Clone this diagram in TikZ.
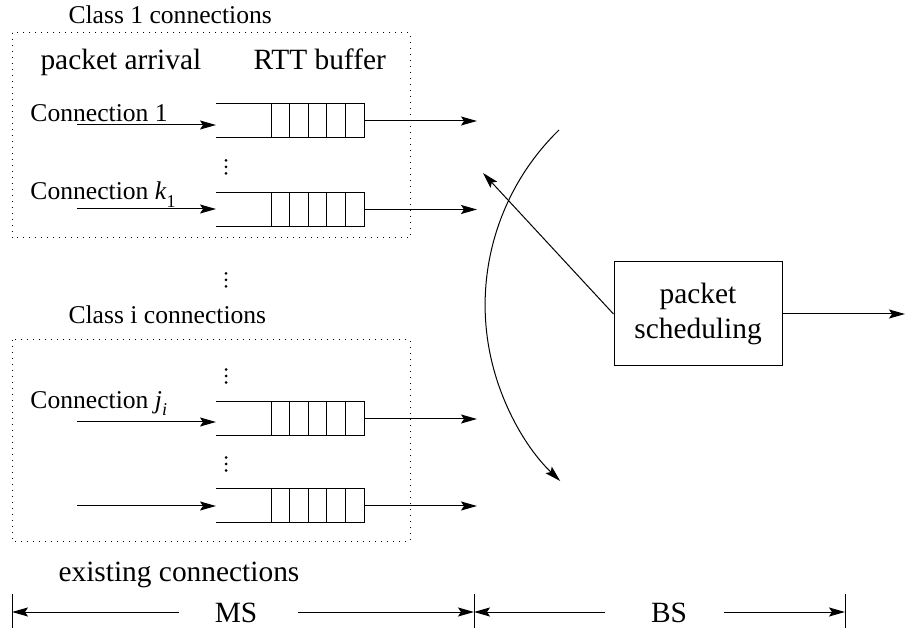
\documentclass[tikz,border=0pt]{standalone}
\usepackage{fontspec}
\setmainfont{Liberation Serif}
\usetikzlibrary{arrows.meta}

\newcommand\bigtext{\fontsize{29.4}{35}\selectfont}
\newcommand\smalltext{\fontsize{25.6}{30}\selectfont}
\newcommand\subtext{\fontsize{18}{18}\selectfont}

% a FIFO buffer: open on the left, five slots at the right end
\newcommand\drawqueue[1]{%
  \draw (#1.north west) -- (#1.north east) -- (#1.south east) -- (#1.south west);
  \foreach \k in {1,...,5}
    \draw ([xshift=-18.6pt*\k]#1.north east) -- ([xshift=-18.6pt*\k]#1.south east);
}

\tikzset{
  arr/.style={-{Stealth[length=16pt,width=9pt,inset=3pt]}},
  queuebox/.style={minimum width=148pt, minimum height=34pt, inner sep=0pt, outer sep=0pt},
  dotbox/.style={dash pattern=on 1.2pt off 4.8pt},
  lbl/.style={inner sep=0pt, anchor=base west, font=\smalltext},
  biglbl/.style={inner sep=0pt, anchor=base west, font=\bigtext},
  vdot/.style={circle, fill, inner sep=0pt, minimum size=3pt},
  schedbox/.style={draw, minimum width=168pt, minimum height=104pt, align=center,
                   font=\bigtext, inner sep=0pt},
}

\begin{document}
\begin{tikzpicture}[x=1pt, y=-1pt, line width=1pt]
\useasboundingbox (0,0) rectangle (906,628);

% ---- class 1 group ----
\node[lbl] (class1) at (68,24) {Class 1 connections};
\draw[dotbox] (12,33) rectangle (410,238);
\node[biglbl] (arrival) at (40,70) {packet arrival};
\node[biglbl] (rtt) at (253,70) {RTT buffer};

\node[lbl] (conn1) at (30,121.5) {Connection 1};
\node[lbl] (connk) at (30,200) {Connection \textit{k}\raisebox{-8pt}{\subtext 1}};

\node[queuebox] (q1) at (290,121) {};
\node[queuebox] (q2) at (290,209.5) {};
\drawqueue{q1}
\drawqueue{q2}

% ---- class i group ----
\node[lbl] (classi) at (68,324) {Class i connections};
\draw[dotbox] (12,340) rectangle (410,541);
\node[lbl] (connj) at (30,409) {Connection \textit{j}\raisebox{-7pt}{\subtext\textit{i}}};

\node[queuebox] (q3) at (290,419) {};
\node[queuebox] (q4) at (290,506) {};
\drawqueue{q3}
\drawqueue{q4}

\node[biglbl] (existing) at (58,581) {existing connections};

% vertical ellipses
\foreach \yc in {167,280,376,464}
  \foreach \d in {-6.5,0,6.5}
    \node[vdot] at (226,\yc+\d) {};

% arrival arrows into the buffers
\coordinate (in1) at (77,125);
\coordinate (in2) at (77,209);
\coordinate (in3) at (77,422);
\coordinate (in4) at (77,506);
\draw[arr] (in1) -- (in1 -| q1.west);
\draw[arr] (in2) -- (in2 -| q2.west);
\draw[arr] (in3) -- (in3 -| q3.west);
\draw[arr] (in4) -- (in4 -| q4.west);

% buffer outputs
\coordinate (outx) at (477,0);
\draw[arr] (q1.east) -- (q1.east -| outx);
\draw[arr] (q2.east) -- (q2.east -| outx);
\draw[arr] (q3.east) -- (q3.east -| outx);
\draw[arr] (q4.east) -- (q4.east -| outx);

% scheduler
\node[schedbox] (sched) at (698,314) {packet\\scheduling};
\coordinate (schedout) at (905,314);
\draw[arr] (sched.east) -- (schedout);

% selector pointer and its sweep
\coordinate (ptr) at (483,173);
\draw[arr] (sched.west) -- (ptr);
\coordinate (sweep) at (559,130);
\draw[arr] (sweep) arc[start angle=225.8, end angle=133.8, radius=244];

% MS / BS extents
\coordinate (bA) at (12,612);
\coordinate (bB) at (474,612);
\coordinate (bC) at (845,612);
\foreach \b in {bA,bB,bC}
  \draw ([yshift=18pt]\b) -- ([yshift=-16pt]\b);
\node[inner sep=0pt, anchor=base, font=\bigtext] (ms) at (236,622) {MS};
\node[inner sep=0pt, anchor=base, font=\bigtext] (bs) at (669,622) {BS};
\coordinate (msl) at (179,612);
\coordinate (msr) at (298,612);
\coordinate (bsl) at (605,612);
\coordinate (bsr) at (724,612);
\draw[arr] (msl) -- (bA);
\draw[arr] (msr) -- (bB);
\draw[arr] (bsl) -- (bB);
\draw[arr] (bsr) -- (bC);
\end{tikzpicture}
\end{document}
